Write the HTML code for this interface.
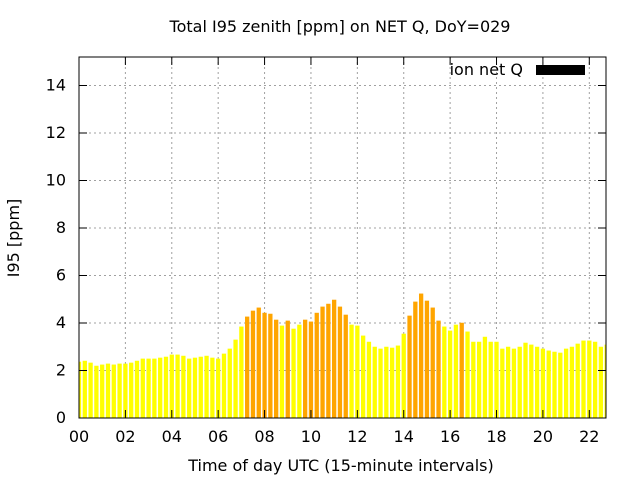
<!DOCTYPE html>
<html><head><meta charset="utf-8"><style>
body{margin:0;background:#fff}
text{font-family:"DejaVu Sans","Liberation Sans",sans-serif;font-size:16px;fill:#000}
</style></head><body>
<svg id="chart" width="640" height="480">
<text x="340" y="32" text-anchor="middle">Total I95 zenith [ppm] on NET Q, DoY=029</text>
<g id="grid"></g><g id="bars"></g><g id="axes"></g>
<text x="341" y="471" text-anchor="middle">Time of day UTC (15-minute intervals)</text>
<text transform="translate(19,238) rotate(-90)" text-anchor="middle">I95 [ppm]</text>
<g>
<text x="523" y="75" text-anchor="end">ion net Q</text>
<rect x="536" y="65" width="49" height="10" fill="#000"/>
</g>
</svg>
<script>
const values=[2.37,2.41,2.33,2.2,2.25,2.29,2.25,2.29,2.29,2.33,2.41,2.5,2.5,2.5,2.54,2.58,2.67,2.67,2.62,2.5,2.54,2.58,2.62,2.54,2.5,2.71,2.92,3.3,3.85,4.27,4.52,4.65,4.43,4.39,4.14,3.89,4.1,3.76,3.93,4.14,4.06,4.43,4.69,4.81,4.98,4.69,4.35,3.93,3.89,3.47,3.21,3.0,2.92,3.0,2.96,3.05,3.55,4.31,4.9,5.24,4.94,4.65,4.1,3.85,3.68,3.93,4.01,3.64,3.21,3.21,3.42,3.21,3.21,2.92,3.0,2.92,3.0,3.17,3.09,3.0,2.92,2.84,2.79,2.75,2.92,3.0,3.13,3.26,3.26,3.21,3.0,3.09];
const xTicks=["00","02","04","06","08","10","12","14","16","18","20","22"];
const yTicks=[0,2,4,6,8,10,12,14];
const threshold=4;
const X0=79,X1=606,Y0=418,Y1=57,xmax=22.72,ymax=15.2;
const sx=h=>X0+h/xmax*(X1-X0), sy=v=>Y0-v/ymax*(Y0-Y1);
const ns="http://www.w3.org/2000/svg";
function mk(t,a,p){const e=document.createElementNS(ns,t);for(const k in a)e.setAttribute(k,a[k]);p.appendChild(e);return e;}
const grid=document.getElementById('grid'),bars=document.getElementById('bars'),axes=document.getElementById('axes');
yTicks.forEach(v=>{const y=sy(v);
 if(v>0){const g=mk('line',{x1:X0,x2:X1,y1:y,y2:y,stroke:'#a0a0a0','stroke-dasharray':'2,3'},grid);
 
 }
 mk('line',{x1:X0,x2:X0+8,y1:y,y2:y,stroke:'#000'},axes);
 mk('line',{x1:X1,x2:X1-8,y1:y,y2:y,stroke:'#000'},axes);
 const t=mk('text',{x:X0-13,y:y+5,'text-anchor':'end'},axes);t.textContent=v;
 
 
});
xTicks.forEach((s,i)=>{const x=sx(i*2);
 if(i>0){const g=mk('line',{x1:x,x2:x,y1:Y1,y2:Y0,stroke:'#a0a0a0','stroke-dasharray':'2,3'},grid);
 
 }
 mk('line',{x1:x,x2:x,y1:Y0,y2:Y0-8,stroke:'#000'},axes);
 mk('line',{x1:x,x2:x,y1:Y1,y2:Y1+8,stroke:'#000'},axes);
 const t=mk('text',{x:x,y:Y0+24,'text-anchor':'middle'},axes);t.textContent=s;
 
 
});
const bw=(sx(0.25)-sx(0))*0.74;
values.forEach((v,i)=>{const c=sx(i*0.25);let l=c-bw/2,r=c+bw/2;l=Math.max(l,X0);r=Math.min(r,X1);
 const b=mk('rect',{x:l,y:sy(v),width:Math.max(0,r-l),height:Y0-sy(v),fill:v>=threshold?'#ffa500':'#ffff00'},bars);
 
 
});
const f=mk('rect',{x:X0,y:Y1,width:X1-X0,height:Y0-Y1,fill:'none',stroke:'#000','stroke-width':1},axes);


</script>
</body></html>
